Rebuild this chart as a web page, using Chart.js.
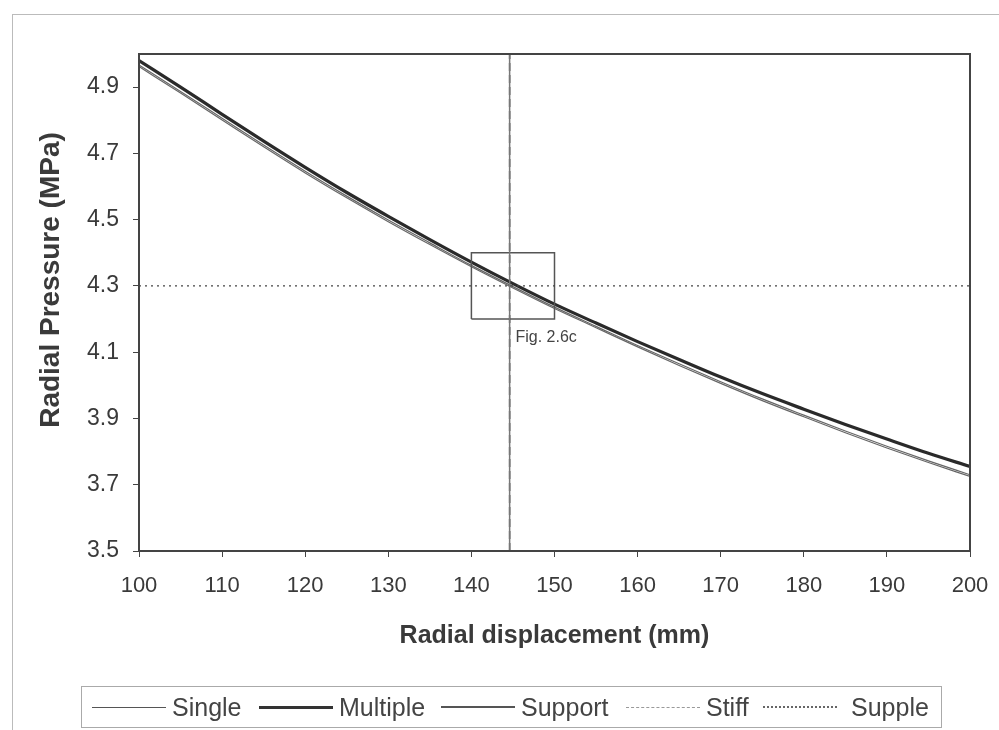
<!DOCTYPE html>
<html>
<head>
<meta charset="utf-8">
<script src="https://cdn.jsdelivr.net/npm/chart.js@4.4.1/dist/chart.umd.min.js"></script>
<style>
  html, body { margin: 0; padding: 0; background: #fff; }
  #wrap { position: relative; width: 999px; height: 730px; overflow: hidden; font-family: "Liberation Sans", Arial, sans-serif; }
  #frame { position: absolute; left: 12px; top: 14px; width: 1000px; height: 800px; border-left: 1px solid #bbb; border-top: 1px solid #bbb; }
  #chart { position: absolute; left: 0; top: 0; }
  #legend { position: absolute; left: 81px; top: 686px; width: 861px; height: 42px; border: 1px solid #aaa; box-sizing: border-box; color: #444; font-size: 25px; }
  .item { position: absolute; top: 0; height: 40px; display: flex; align-items: center; white-space: nowrap; }
  .swatch { display: inline-block; width: 74px; height: 0; margin-right: 6px; }
</style>
</head>
<body>
<div id="wrap">
  <div id="frame"></div>
  <canvas id="chart" width="999" height="730"></canvas>
  <div id="legend">
    <div class="item" style="left:10px"><span class="swatch" style="border-top:1px solid #555"></span>Single</div>
    <div class="item" style="left:177px"><span class="swatch" style="border-top:3px solid #333"></span>Multiple</div>
    <div class="item" style="left:359px"><span class="swatch" style="border-top:2px solid #555"></span>Support</div>
    <div class="item" style="left:544px"><span class="swatch" style="border-top:1px dashed #999"></span>Stiff</div>
    <div class="item" style="left:681px"><span class="swatch" style="border-top:2px dotted #666;margin-right:14px"></span>Supple</div>
  </div>
</div>
<script>
// radial displacement (mm)
const displacement = [100, 105, 110, 115, 120, 125, 130, 135, 140, 145, 150,
                      155, 160, 165, 170, 175, 180, 185, 190, 195, 200];
// radial pressure (MPa) for each arrangement
const multiple = [4.980, 4.900, 4.818, 4.737, 4.658, 4.582, 4.510, 4.440, 4.372, 4.307, 4.245,
                  4.188, 4.132, 4.078, 4.025, 3.975, 3.928, 3.882, 3.838, 3.795, 3.755];
const single   = [4.962, 4.882, 4.801, 4.720, 4.641, 4.566, 4.494, 4.425, 4.358, 4.294, 4.232,
                  4.174, 4.116, 4.060, 4.006, 3.954, 3.905, 3.857, 3.811, 3.767, 3.725];
const support  = [4.967, 4.887, 4.806, 4.725, 4.646, 4.571, 4.499, 4.430, 4.362, 4.298, 4.236,
                  4.178, 4.120, 4.065, 4.011, 3.959, 3.910, 3.862, 3.816, 3.772, 3.730];

// stiff / supple characteristic lines
const stiffDisplacement = 144.6;
const supplePressure = 4.3;

// detail box (Fig. 2.6c)
const boxX = [140, 150];
const boxY = [4.2, 4.4];

const yTicks = [3.5, 3.7, 3.9, 4.1, 4.3, 4.5, 4.7, 4.9];
const xRange = [100, 200];
const yRange = [3.5, 5.0];

const pts = ys => displacement.map((x, i) => ({ x: x, y: ys[i] }));

const textColor = '#3a3a3a';
const fontFamily = '"Liberation Sans", Arial, sans-serif';

// plot border, box caption and the vertical axis title
const plotFrame = {
  id: 'plotFrame',
  afterDatasetsDraw(chart) {
    const { ctx, chartArea: a, scales: { x, y } } = chart;
    ctx.save();
    ctx.strokeStyle = '#444';
    ctx.lineWidth = 2;
    ctx.strokeRect(a.left, a.top, a.right - a.left, a.bottom - a.top);
    ctx.fillStyle = '#444';
    ctx.font = '16px ' + fontFamily;
    ctx.textBaseline = 'middle';
    ctx.fillText('Fig. 2.6c', x.getPixelForValue(145.3), y.getPixelForValue(boxY[0]) + 19);

    ctx.translate(51, 280);
    ctx.rotate(-Math.PI / 2);
    ctx.textAlign = 'center';
    ctx.fillStyle = textColor;
    ctx.font = 'bold 28px ' + fontFamily;
    ctx.fillText('Radial Pressure (MPa)', 0, 0);
    ctx.restore();
  }
};

new Chart(document.getElementById('chart'), {
  type: 'line',
  data: {
    datasets: [
      {
        label: 'Stiff guide',
        data: [{ x: stiffDisplacement, y: yRange[0] }, { x: stiffDisplacement, y: yRange[1] }],
        borderColor: '#777', borderWidth: 1.5, pointRadius: 0
      },
      {
        label: 'Stiff',
        data: [{ x: stiffDisplacement, y: yRange[0] }, { x: stiffDisplacement, y: yRange[1] }],
        borderColor: '#333', borderWidth: 1.5, borderDash: [8, 4], pointRadius: 0
      },
      {
        label: 'Supple',
        data: [{ x: xRange[0], y: supplePressure }, { x: xRange[1], y: supplePressure }],
        borderColor: '#444', borderWidth: 1.2, borderDash: [2, 4], pointRadius: 0
      },
      {
        label: 'Box',
        data: [{ x: boxX[0], y: boxY[0] }, { x: boxX[1], y: boxY[0] }, { x: boxX[1], y: boxY[1] },
               { x: boxX[0], y: boxY[1] }, { x: boxX[0], y: boxY[0] }],
        borderColor: '#555', borderWidth: 1.5, pointRadius: 0
      },
      {
        label: 'Single',
        data: pts(single),
        borderColor: '#666', borderWidth: 1.2, pointRadius: 0, cubicInterpolationMode: 'monotone'
      },
      {
        label: 'Support',
        data: pts(support),
        borderColor: '#666', borderWidth: 1.2, pointRadius: 0, cubicInterpolationMode: 'monotone'
      },
      {
        label: 'Multiple',
        data: pts(multiple),
        borderColor: '#2a2a2a', borderWidth: 3.2, pointRadius: 0, cubicInterpolationMode: 'monotone'
      }
    ]
  },
  options: {
    responsive: false,
    animation: false,
    layout: { padding: { left: 0, top: 54, right: 29, bottom: 69 } },
    plugins: {
      legend: { display: false },
      tooltip: { enabled: false }
    },
    scales: {
      x: {
        type: 'linear',
        min: xRange[0], max: xRange[1],
        afterFit: s => { s.height = 110; s.paddingRight = 0; },
        grid: { drawOnChartArea: false, tickLength: 6, color: '#444' },
        border: { display: false },
        ticks: { stepSize: 10, padding: 16, color: textColor, font: { family: fontFamily, size: 22 } },
        title: {
          display: true, text: 'Radial displacement (mm)', color: textColor,
          font: { family: fontFamily, size: 25, weight: 'bold' }, padding: { top: 0, bottom: 10 }
        }
      },
      y: {
        type: 'linear',
        min: yRange[0], max: yRange[1],
        afterFit: s => { s.width = 139; },
        afterBuildTicks: s => { s.ticks = yTicks.map(v => ({ value: v })); },
        grid: { drawOnChartArea: false, tickLength: 6, color: '#444' },
        border: { display: false },
        ticks: { padding: 14, color: textColor, font: { family: fontFamily, size: 23 },
                 callback: v => v.toFixed(1) }
      }
    }
  },
  plugins: [plotFrame]
});
</script>
</body>
</html>
